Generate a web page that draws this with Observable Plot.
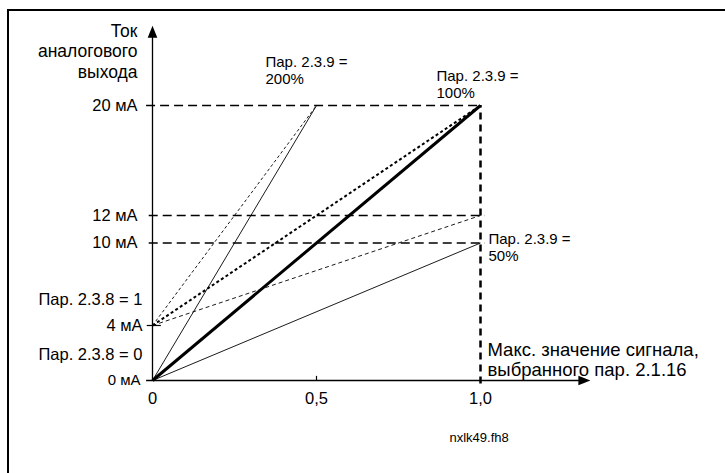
<!DOCTYPE html>
<html><head><meta charset="utf-8">
<script src="https://cdn.jsdelivr.net/npm/d3@7"></script>
<script src="https://cdn.jsdelivr.net/npm/@observablehq/plot@0.6"></script>
<style>
html,body{margin:0;padding:0;background:#fff;overflow:hidden}
#wrap{position:relative;width:725px;height:473px;overflow:hidden}
#frame{position:absolute;left:7px;top:9px;width:800px;height:600px;border-left:2px solid #000;border-top:2px solid #000;pointer-events:none}
</style></head><body>
<div id="wrap"><div id="chart"></div><div id="frame"></div></div>
<script>
// ---- data ----
const yTicks = [0, 4, 10, 12, 20];
const yTickLabels = ["0 мА", "4 мА", "10 мА", "12 мА", "20 мА"];
const xTicks = [0, 0.5, 1];
const xTickLabels = ["0", "0,5", "1,0"];
const guideLevels = [20, 12, 10];
// output lines: Пар. 2.3.8 (offset) x Пар. 2.3.9 (scale)
const lineOffset = ["0", "0", "0", "1", "1", "1"];
const lineScale = ["100%", "50%", "200%", "100%", "50%", "200%"];
const lineStartX = [0, 0, 0, 0, 0, 0];
const lineStartY = [0, 0, 0, 4, 4, 4];
const lineEndX = [1, 1, 0.5, 1, 1, 0.5];
const lineEndY = [20, 10, 20, 20, 12, 20];
const yAxisTitle = "Ток\nаналогового\nвыхода";
const xAxisNote = "Макс. значение сигнала,\nвыбранного пар. 2.1.16";
const offLabels = ["Пар. 2.3.8 = 0", "Пар. 2.3.8 = 1"];
const offLabelY = [0, 4];
const scaleLabels = ["Пар. 2.3.9 =\n200%", "Пар. 2.3.9 =\n100%", "Пар. 2.3.9 =\n50%"];
const fileTag = "nxlk49.fh8";

const xAxisEnd = 1.335, yAxisEnd = 25.8;

const lines = lineOffset.map((o, i) => ({off: o, scale: lineScale[i], x1: lineStartX[i], y1: lineStartY[i], x2: lineEndX[i], y2: lineEndY[i]}));
const styleOf = {
  "0|100%": {strokeWidth: 3},
  "0|50%": {strokeWidth: 0.9},
  "0|200%": {strokeWidth: 0.9},
  "1|100%": {strokeWidth: 2, strokeDasharray: "3,2.5"},
  "1|50%": {strokeWidth: 0.9, strokeDasharray: "4,3"},
  "1|200%": {strokeWidth: 0.9, strokeDasharray: "3,2.5"}
};
const arrowHead = {draw(ctx) { ctx.moveTo(0, 0); ctx.lineTo(-4.8, 12); ctx.lineTo(4.8, 12); ctx.closePath(); }};
const FONT = "'Liberation Sans', Arial, sans-serif";
const yTickData = yTicks.map((v, i) => ({v, label: yTickLabels[i]}));
const xTickData = xTicks.map((v, i) => ({v, label: xTickLabels[i]}));

const marks = [];
// dashed guides
marks.push(Plot.ruleY([guideLevels[0]], {x1: -0.018, x2: 1, stroke: "black", strokeWidth: 1.3, strokeDasharray: "9,5"}));
marks.push(Plot.ruleY(guideLevels.slice(1), {x1: -0.01, x2: 1.015, stroke: "black", strokeWidth: 1.3, strokeDasharray: "9,5"}));
marks.push(Plot.ruleX([1], {y1: -0.25, y2: 20, stroke: "black", strokeWidth: 2.5, strokeDasharray: "7,5"}));
// axes
marks.push(Plot.ruleY([0], {x1: -0.018, x2: xAxisEnd - 0.02, stroke: "black", strokeWidth: 1.3}));
marks.push(Plot.ruleX([0], {y1: 0, y2: yAxisEnd - 0.5, stroke: "black", strokeWidth: 1.3}));
marks.push(Plot.dot([0], {x: () => 0, y: () => yAxisEnd, symbol: arrowHead, fill: "black", stroke: "none"}));
marks.push(Plot.dot([0], {x: () => xAxisEnd, y: () => 0, symbol: arrowHead, fill: "black", stroke: "none", rotate: 90}));
marks.push(Plot.ruleY([4], {x1: -0.016, x2: 0.027, stroke: "black", strokeWidth: 1.2}));
marks.push(Plot.ruleX([0.5], {y1: 0, y2: 0.3, stroke: "black", strokeWidth: 1.2}));
// data lines
for (const d of lines) {
  marks.push(Plot.link([d], {x1: "x1", y1: "y1", x2: "x2", y2: "y2", stroke: "black", ...styleOf[d.off + "|" + d.scale]}));
}
// tick labels
marks.push(Plot.text(yTickData.filter(d => d.v !== 4 && d.v !== 0), {x: () => 0, y: "v", text: "label", textAnchor: "end", lineAnchor: "middle", dx: -15, fontSize: 16.5, fontFamily: FONT}));
marks.push(Plot.text(yTickData.filter(d => d.v === 4), {x: () => 0, y: "v", text: "label", textAnchor: "end", lineAnchor: "middle", dx: -10, fontSize: 16.5, fontFamily: FONT}));
marks.push(Plot.text(yTickData.filter(d => d.v === 0), {x: () => 0, y: "v", text: "label", textAnchor: "end", lineAnchor: "middle", dx: -12, fontSize: 15, fontFamily: FONT}));
marks.push(Plot.text(xTickData, {x: "v", y: () => 0, text: "label", textAnchor: "middle", lineAnchor: "middle", dy: 18, fontSize: 16.5, fontFamily: FONT}));
// annotations
marks.push(Plot.text([yAxisTitle], {x: () => 0, y: () => 20, text: d => d, textAnchor: "end", lineAnchor: "bottom", dx: -15, dy: -28, fontSize: 17.5, lineHeight: 1.17, fontFamily: FONT}));
marks.push(Plot.text(offLabels.map((t, i) => ({t, y: offLabelY[i]})), {x: () => 0, y: "y", text: "t", textAnchor: "end", lineAnchor: "bottom", dx: -10, dy: -21, fontSize: 16.5, fontFamily: FONT}));
marks.push(Plot.text([scaleLabels[0]], {x: () => 0.5, y: () => 20, text: d => d, textAnchor: "start", lineAnchor: "bottom", dx: -51, dy: -22, fontSize: 15, lineHeight: 1.1, fontFamily: FONT}));
marks.push(Plot.text([scaleLabels[1]], {x: () => 1, y: () => 20, text: d => d, textAnchor: "start", lineAnchor: "bottom", dx: -44, dy: -8, fontSize: 15, lineHeight: 1.1, fontFamily: FONT}));
marks.push(Plot.text([scaleLabels[2]], {x: () => 1, y: () => 10, text: d => d, textAnchor: "start", lineAnchor: "top", dx: 8, dy: -10.5, fontSize: 15, lineHeight: 1.1, fontFamily: FONT}));
marks.push(Plot.text([xAxisNote], {x: () => 1, y: () => 0, text: d => d, textAnchor: "start", lineAnchor: "bottom", dx: 7, dy: -5, fontSize: 18.5, lineHeight: 1.08, fontFamily: FONT}));
marks.push(Plot.text([fileTag], {x: () => 1, y: () => 0, text: d => d, textAnchor: "start", lineAnchor: "middle", dx: -31, dy: 57, fontSize: 13, fontFamily: FONT}));

const chart = Plot.plot({
  width: 725, height: 473,
  marginLeft: 152, marginRight: 245, marginTop: 105, marginBottom: 93,
  x: {domain: [0, 1], axis: null},
  y: {domain: [0, 20], axis: null},
  style: {fontFamily: FONT, background: "white", color: "black"},
  marks
});
document.getElementById("chart").appendChild(chart);
</script>
</body></html>
